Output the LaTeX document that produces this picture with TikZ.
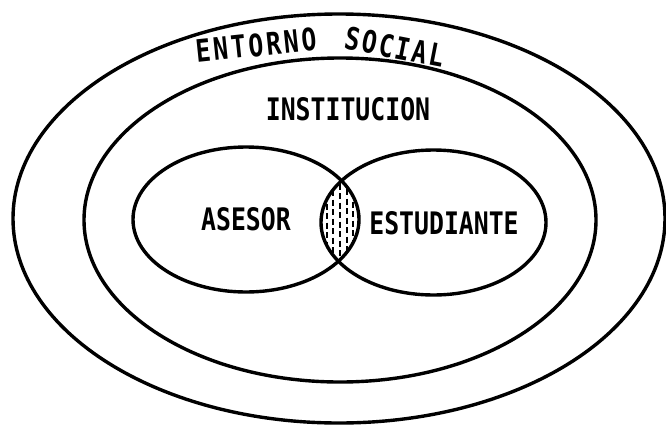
\documentclass[tikz,border=0pt]{standalone}
\usepackage{fontspec}
\usepackage{tikz}
\usetikzlibrary{shapes.geometric,positioning}
\newfontfamily\rotulo{DejaVu Sans Mono Bold}[FakeStretch=0.8]

\begin{document}
\begin{tikzpicture}[x=1pt,y=-1pt,
    zona/.style={ellipse,draw,line width=3.4pt,inner sep=0pt},
    rotulo/.style={inner sep=0pt,font=\rotulo\fontsize{31}{31}\selectfont}]

  \useasboundingbox (0,0) rectangle (666,426);

  % ellipses
  \node[zona, minimum width=652, minimum height=409] (entorno)     at (339,218.5) {};
  \node[zona, minimum width=512, minimum height=324] (institucion) at (340,220) {};
  \node[zona, minimum width=226, minimum height=145] (asesor)      at (246,219.5) {};
  \node[zona, minimum width=225, minimum height=145] (estudiante)  at (433.5,222.5) {};

  % shared zone
  \begin{scope}
    \clip (246,219.5) ellipse [x radius=113, y radius=72.5];
    \clip (433.5,222.5) ellipse [x radius=112.5, y radius=72.5];
    \foreach \x/\s in {327/0,333/4,340/1,347/5,353/2}
      \draw[line width=2.3pt, dash pattern=on 6pt off 3.5pt, dash phase=\s pt]
        (\x,175) -- (\x,268);
  \end{scope}

  % labels
  \node[rotulo, rotate=6]   (entornoA) at (256,45)  {\addfontfeature{LetterSpace=9}ENTORNO};
  \node[rotulo, rotate=-11] (entornoB) at (395,47)  {\addfontfeature{LetterSpace=7}SOCIAL};
  \node[rotulo]             (instL)    at (348,109) {INSTITUCION};
  \node[rotulo]             (asesorL)  at (246,219) {ASESOR};
  \node[rotulo]             (estL)     at (444,223) {ESTUDIANTE};
\end{tikzpicture}
\end{document}
